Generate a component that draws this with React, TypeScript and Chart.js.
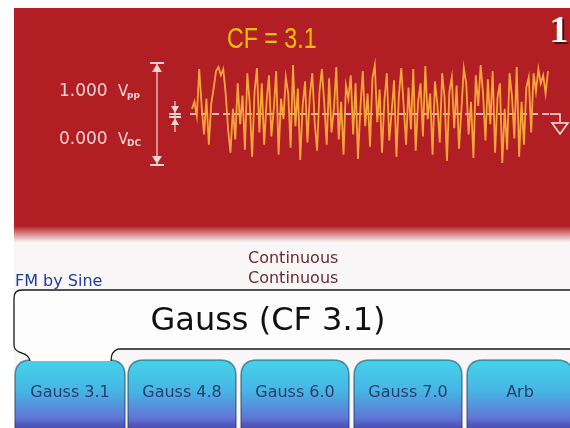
import { useEffect, useRef } from "react";
import { Chart, registerables } from "chart.js";

Chart.register(...registerables);

const noiseVolts = [
  0.05, 0.12, -0.02, 0.44, 0.08, -0.2, 0.15, -0.3, 0.1, 0.25,
  0.42, 0.46, 0.38, 0.44, 0.2, -0.15, -0.38, 0.05, -0.25, 0.3,
  -0.1, 0.18, -0.35, 0.4, 0.1, -0.42, 0.22, 0.45, -0.18, 0.3,
  -0.3, 0.12, 0.38, -0.22, 0.05, 0.42, -0.4, 0.15, -0.05, 0.36,
  0.2, -0.33, 0.48, -0.12, 0.25, -0.45, 0.08, 0.32, -0.28, 0.18,
  0.4, -0.08, -0.36, 0.22, 0.44, 0.1, -0.3, 0.35, -0.18, 0.05,
  0.46, -0.25, 0.12, -0.4, 0.28, 0.15, 0.38, -0.2, 0.3, -0.44,
  0.06, 0.42, -0.12, 0.2, -0.32, 0.35, 0.48, -0.08, 0.24, -0.38,
  0.14, 0.4, -0.26, 0.02, 0.33, -0.42, 0.18, 0.45, 0.08, -0.3,
  0.26, -0.15, 0.44, -0.36, 0.12, 0.3, -0.22, 0.47, -0.05, 0.2,
  -0.4, 0.32, 0.1, -0.28, 0.4, 0.16, -0.46, 0.22, 0.36, -0.14,
  0.28, -0.34, 0.04, 0.45, 0.3, -0.2, 0.12, -0.43, 0.38, 0.08,
  0.48, 0.2, -0.26, 0.34, -0.1, 0.42, -0.38, 0.16, 0.3, -0.48,
  0.05, -0.35, 0.4, 0.18, -0.24, 0.46, -0.42, 0.12, -0.3, 0.26,
  0.36, -0.18, 0.4, 0.22, 0.44, 0.3, 0.38, 0.2, 0.42,
];
const offsetVolts = [0, 0];
const amplitudeRange = [-0.5, 0.5];

const amplitudeText = "1.000";
const offsetText = "0.000";
const crestTitle = "CF = 3.1";
const channelNumber = "1";
const waveName = "Gauss (CF 3.1)";
const modulationText = "FM by Sine";
const statusLines = ["Continuous", "Continuous"];
const softkeyLabels = ["Gauss 3.1", "Gauss 4.8", "Gauss 6.0", "Gauss 7.0", "Arb"];

const RED = "#b11f24";
const PINK = "#f3d6d4";
const W = 570;
const H = 428;

function roundTopRect(ctx: CanvasRenderingContext2D, x: number, y: number, w: number, h: number, r: number) {
  ctx.beginPath();
  ctx.moveTo(x, y + h);
  ctx.lineTo(x, y + r);
  ctx.quadraticCurveTo(x, y, x + r, y);
  ctx.lineTo(x + w - r, y);
  ctx.quadraticCurveTo(x + w, y, x + w, y + r);
  ctx.lineTo(x + w, y + h);
  ctx.closePath();
}

const screenPlugin = {
  id: "screen",
  beforeDraw(chart: any) {
    const ctx: CanvasRenderingContext2D = chart.ctx;
    ctx.save();
    ctx.fillStyle = "#ffffff";
    ctx.fillRect(0, 0, W, H);
    ctx.fillStyle = "#f8f6f6";
    ctx.fillRect(14, 8, W - 14, H - 8);
    ctx.fillStyle = RED;
    ctx.fillRect(14, 8, W - 14, 220);
    const g = ctx.createLinearGradient(0, 226, 0, 242);
    g.addColorStop(0, RED);
    g.addColorStop(0.5, "#d88a8a");
    g.addColorStop(1, "#f7f0f0");
    ctx.fillStyle = g;
    ctx.fillRect(14, 226, W - 14, 16);
    ctx.restore();
  },
  afterDraw(chart: any) {
    const ctx: CanvasRenderingContext2D = chart.ctx;
    const xs = chart.scales.x;
    const ys = chart.scales.y;
    const yTop = ys.getPixelForValue(amplitudeRange[1]);
    const yBot = ys.getPixelForValue(amplitudeRange[0]);
    const y0 = ys.getPixelForValue(0);
    const xEnd = xs.getPixelForValue(noiseVolts.length - 1 + 0.8);

    ctx.save();

    // CF title (condensed)
    ctx.save();
    ctx.translate(227, 48);
    ctx.scale(0.8, 1);
    ctx.fillStyle = "#e6c200";
    ctx.font = "29px 'Liberation Sans', sans-serif";
    ctx.textBaseline = "alphabetic";
    ctx.textAlign = "left";
    ctx.fillText(crestTitle, 0, 0);
    ctx.restore();

    // channel number
    ctx.font = "bold 38px 'Liberation Serif', serif";
    ctx.textAlign = "center";
    ctx.textBaseline = "alphabetic";
    ctx.fillStyle = "#4a1010";
    ctx.fillText(channelNumber, 561, 44);
    ctx.fillStyle = "#ffffff";
    ctx.fillText(channelNumber, 559, 42);

    // amplitude labels
    const label = (num: string, sub: string, y: number) => {
      ctx.textAlign = "left";
      ctx.textBaseline = "alphabetic";
      ctx.fillStyle = PINK;
      ctx.font = "17px 'DejaVu Sans', sans-serif";
      ctx.fillText(num, 59, y);
      ctx.font = "15px 'DejaVu Sans', sans-serif";
      ctx.fillText("V", 118, y);
      ctx.font = "bold 9px 'DejaVu Sans', sans-serif";
      ctx.fillText(sub, 127, y + 2);
    };
    label(amplitudeText, "pp", 96);
    label(offsetText, "DC", 144);

    // amplitude arrow
    ctx.strokeStyle = PINK;
    ctx.fillStyle = PINK;
    ctx.lineWidth = 1.2;
    const ax = 157;
    ctx.beginPath();
    ctx.moveTo(ax, yTop);
    ctx.lineTo(ax, yBot);
    ctx.stroke();
    ctx.lineWidth = 2;
    ctx.beginPath();
    ctx.moveTo(ax - 7, yTop);
    ctx.lineTo(ax + 7, yTop);
    ctx.moveTo(ax - 7, yBot);
    ctx.lineTo(ax + 7, yBot);
    ctx.stroke();
    ctx.beginPath();
    ctx.moveTo(ax, yTop + 1);
    ctx.lineTo(ax - 5, yTop + 9);
    ctx.lineTo(ax + 5, yTop + 9);
    ctx.closePath();
    ctx.moveTo(ax, yBot - 1);
    ctx.lineTo(ax - 5, yBot - 9);
    ctx.lineTo(ax + 5, yBot - 9);
    ctx.closePath();
    ctx.fill();

    // offset arrow
    const ox = 175;
    ctx.lineWidth = 1.2;
    ctx.beginPath();
    ctx.moveTo(ox, y0 - 13);
    ctx.lineTo(ox, y0 + 18);
    ctx.stroke();
    ctx.lineWidth = 2;
    ctx.beginPath();
    ctx.moveTo(ox - 6, y0);
    ctx.lineTo(ox + 6, y0);
    ctx.moveTo(ox - 6, y0 + 3);
    ctx.lineTo(ox + 6, y0 + 3);
    ctx.stroke();
    ctx.beginPath();
    ctx.moveTo(ox, y0 - 1);
    ctx.lineTo(ox - 4, y0 - 8);
    ctx.lineTo(ox + 4, y0 - 8);
    ctx.closePath();
    ctx.moveTo(ox, y0 + 4);
    ctx.lineTo(ox - 4, y0 + 11);
    ctx.lineTo(ox + 4, y0 + 11);
    ctx.closePath();
    ctx.fill();

    // ground symbol
    ctx.strokeStyle = "#f4eaea";
    ctx.lineWidth = 1.5;
    ctx.beginPath();
    ctx.moveTo(xEnd, y0);
    ctx.lineTo(560, y0);
    ctx.lineTo(560, y0 + 8);
    ctx.moveTo(552, y0 + 9);
    ctx.lineTo(568, y0 + 9);
    ctx.lineTo(560, y0 + 20);
    ctx.closePath();
    ctx.stroke();

    // status texts
    ctx.textAlign = "left";
    ctx.textBaseline = "alphabetic";
    ctx.font = "16px 'DejaVu Sans', sans-serif";
    ctx.fillStyle = "#6a2a36";
    ctx.fillText(statusLines[0], 248, 263);
    ctx.fillText(statusLines[1], 248, 283);
    ctx.fillStyle = "#1f3d9a";
    ctx.fillText(modulationText, 15, 286);

    // buttons
    const btnX = [15, 128, 241, 354, 467];
    const btnW = [110, 108, 108, 108, 106];
    const btnTop = 360;
    softkeyLabels.forEach((lab, i) => {
      const x = btnX[i];
      const w = btnW[i];
      const g = ctx.createLinearGradient(0, btnTop, 0, H);
      g.addColorStop(0, "#46d2ea");
      g.addColorStop(0.45, "#45b6e4");
      g.addColorStop(0.85, "#6176d6");
      g.addColorStop(1, "#4c4cb4");
      roundTopRect(ctx, x, btnTop, w, 70, 16);
      ctx.fillStyle = g;
      ctx.fill();
      ctx.strokeStyle = "rgba(30,60,90,0.55)";
      ctx.lineWidth = 1.5;
      ctx.stroke();
      ctx.fillStyle = "#2b3d6b";
      ctx.font = "16px 'DejaVu Sans', sans-serif";
      ctx.textAlign = "center";
      ctx.textBaseline = "middle";
      ctx.fillText(lab, x + w / 2, 393);
    });

    // name box with tab
    const outline = () => {
      ctx.moveTo(W, 290);
      ctx.lineTo(22, 290);
      ctx.quadraticCurveTo(14, 290, 14, 298);
      ctx.lineTo(14, 345);
      ctx.quadraticCurveTo(14, 351, 22, 353);
      ctx.quadraticCurveTo(29, 355, 30, 361);
    };
    ctx.fillStyle = "#fdfdfd";
    ctx.beginPath();
    outline();
    ctx.lineTo(111, 361);
    ctx.quadraticCurveTo(111, 351, 118, 349);
    ctx.lineTo(W, 349);
    ctx.closePath();
    ctx.fill();
    ctx.strokeStyle = "#1a1a1a";
    ctx.lineWidth = 1.3;
    ctx.beginPath();
    outline();
    ctx.moveTo(111, 361);
    ctx.quadraticCurveTo(111, 351, 118, 349);
    ctx.lineTo(W, 349);
    ctx.stroke();

    ctx.fillStyle = "#111111";
    ctx.font = "32px 'DejaVu Sans', sans-serif";
    ctx.textAlign = "center";
    ctx.textBaseline = "middle";
    ctx.fillText(waveName, 268, 322);

    ctx.restore();
  },
};

export default function App() {
  const ref = useRef<HTMLCanvasElement | null>(null);
  useEffect(() => {
    if (!ref.current) return;
    const last = noiseVolts.length - 1;
    const chart = new Chart(ref.current, {
      type: "line",
      data: {
        datasets: [
          {
            label: "Noise",
            data: noiseVolts.map((v, i) => ({ x: i, y: v })),
            borderColor: "#f6a43c",
            borderWidth: 1.8,
            pointRadius: 0,
            tension: 0,
            clip: false as any,
          },
          {
            label: "Offset",
            data: [
              { x: -0.8, y: offsetVolts[0] },
              { x: last + 0.8, y: offsetVolts[1] },
            ],
            borderColor: "#f6ecec",
            borderWidth: 1.6,
            borderDash: [7, 4],
            pointRadius: 0,
            clip: false as any,
          },
        ],
      },
      options: {
        responsive: false,
        animation: false,
        layout: { padding: { left: 192, right: 22, top: 63, bottom: 263 } },
        scales: {
          x: { type: "linear", display: false, min: 0, max: last },
          y: { display: false, min: amplitudeRange[0], max: amplitudeRange[1] },
        },
        plugins: { legend: { display: false }, tooltip: { enabled: false } },
      },
      plugins: [screenPlugin],
    });
    return () => chart.destroy();
  }, []);
  return (
    <canvas
      ref={ref}
      width={W}
      height={H}
      style={{ display: "block", position: "fixed", left: 0, top: 0, width: W, height: H }}
    />
  );
}
